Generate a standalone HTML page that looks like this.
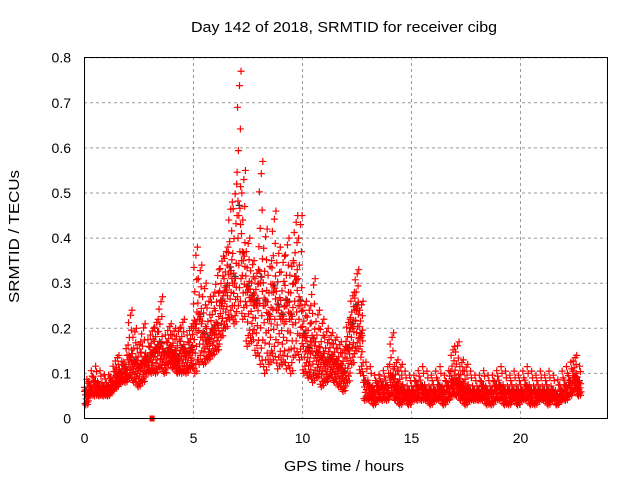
<!DOCTYPE html>
<html><head><meta charset="utf-8"><style>
body{margin:0;background:#fff}
svg text{font-family:"Liberation Sans",sans-serif;font-size:14px;fill:#000}
</style></head><body>
<svg id="chart" width="640" height="480" xmlns="http://www.w3.org/2000/svg">
<text x="191" y="32" textLength="306" lengthAdjust="spacingAndGlyphs" style="font-size:15px">Day 142 of 2018, SRMTID for receiver cibg</text>
<g id="grid"></g><g id="ticks"></g><g id="marks"></g>
<rect x="84.5" y="57.5" width="523" height="361" fill="none" stroke="#000" stroke-width="1"/>
<text x="284" y="471" textLength="120" lengthAdjust="spacingAndGlyphs" style="font-size:15px">GPS time / hours</text>
<text transform="translate(19,303) rotate(-90)" textLength="133" lengthAdjust="spacingAndGlyphs" style="font-size:15px">SRMTID / TECUs</text>
</svg>
<script>
const xTicks=[0,5,10,15,20];
const yTicks=[0,0.1,0.2,0.3,0.4,0.5,0.6,0.7,0.8];
const yLabels=["0","0.1","0.2","0.3","0.4","0.5","0.6","0.7","0.8"];
const tStep=0.2;
const hiVals=[.09,.11,.12,.11,.10,.10,.12,.14,.13,.16,.24,.20,.17,.21,.18,.20,.22,.27,.19,.21,.20,.20,.22,.19,.21,.38,.34,.30,.27,.28,.33,.36,.38,.48,.52,.77,.55,.40,.35,.33,.57,.42,.35,.46,.38,.36,.40,.35,.45,.45,.26,.25,.31,.24,.22,.20,.19,.18,.17,.16,.22,.28,.33,.26,.13,.12,.10,.10,.11,.12,.19,.13,.12,.11,.10,.10,.11,.12,.11,.10,.11,.12,.10,.11,.16,.17,.13,.12,.11,.10,.10,.11,.10,.10,.11,.12,.11,.10,.11,.10,.11,.12,.11,.10,.11,.10,.11,.10,.09,.11,.12,.13,.14,.12];
const midVals=[.06,.07,.08,.07,.07,.07,.08,.09,.10,.11,.13,.12,.11,.12,.13,.14,.15,.16,.14,.15,.14,.13,.15,.14,.15,.20,.22,.18,.17,.19,.20,.25,.28,.32,.30,.45,.35,.28,.26,.25,.30,.25,.22,.28,.24,.22,.25,.22,.30,.25,.18,.15,.17,.14,.13,.12,.13,.12,.11,.10,.15,.20,.24,.18,.08,.07,.06,.07,.07,.07,.09,.07,.06,.06,.06,.06,.07,.07,.06,.06,.06,.07,.06,.07,.08,.08,.07,.06,.06,.06,.06,.07,.06,.06,.07,.07,.06,.06,.06,.06,.06,.07,.06,.06,.06,.06,.06,.06,.05,.06,.07,.08,.09,.08];
const loVals=[.03,.05,.05,.05,.05,.05,.06,.07,.08,.08,.09,.08,.07,.08,.10,.10,.10,.11,.10,.12,.11,.10,.10,.10,.11,.10,.12,.12,.13,.14,.15,.18,.20,.22,.21,.25,.22,.16,.17,.14,.12,.10,.12,.13,.11,.12,.11,.10,.14,.13,.10,.09,.08,.09,.07,.08,.09,.08,.07,.06,.08,.12,.15,.10,.04,.04,.03,.04,.04,.04,.05,.04,.03,.04,.03,.04,.04,.04,.04,.03,.04,.04,.03,.04,.05,.05,.04,.03,.04,.04,.04,.04,.03,.03,.04,.04,.03,.03,.04,.03,.04,.04,.03,.03,.04,.04,.03,.04,.03,.04,.04,.05,.06,.05];
const zeroPoint=[3.1,0];
const X0=84.5,PX=21.8,Y0=418.5,PY=451;
const xs=v=>X0+v*PX, ys=v=>Y0-v*PY;
const NS="http://www.w3.org/2000/svg";
function mk(tag,attrs,parent){const e=document.createElementNS(NS,tag);for(const k in attrs)e.setAttribute(k,attrs[k]);document.getElementById(parent).appendChild(e);return e;}
xTicks.forEach(v=>{
  if(v>0){const g=mk('line',{x1:xs(v),x2:xs(v),y1:57,y2:418,stroke:'#999','stroke-dasharray':'3,3'},'grid');
  
  }
  const t=mk('text',{x:xs(v),y:443,'text-anchor':'middle'},'ticks');t.textContent=v;
  
  
});
yTicks.forEach((v,i)=>{
  if(v>0){const g=mk('line',{x1:84,x2:608,y1:ys(v),y2:ys(v),stroke:'#999','stroke-dasharray':'3,3'},'grid');
  
  }
  const t=mk('text',{x:71,y:ys(v)+5,'text-anchor':'end'},'ticks');t.textContent=yLabels[i];
  
  
});
function plus(t,v,col){
  const x=xs(t),y=ys(v);
  const p=mk('path',{d:`M${x-3.5},${y}h7M${x},${y-3.5}v7`,stroke:col,'stroke-width':1.2,fill:'none'},'marks');
  
  
}
midVals.forEach((v,i)=>plus(i*tStep+0.1,v*1.05,'#333'));
const fracs=[0,0.05,0.1,0.2,0.3,0.45,0.6,0.75,0.9,1];
const offs=[0.06,0.15,0.02,0.11,0.18,0.08,0.13,0.04,0.16,0];
hiVals.forEach((v,i)=>{
  const t=i*tStep,m=midVals[i],l=loVals[i];
  fracs.forEach((f,k)=>plus(t+offs[k],l+(m-l)*f,'#f00'));
  fracs.forEach((f,k)=>{ if(k%2===0||v-m>0.05) plus(t+offs[(k+5)%10],m+(v-m)*f,'#f00'); });
});
const r=mk('rect',{x:xs(zeroPoint[0])-2.5,y:ys(zeroPoint[1])-3,width:5,height:6,fill:'#f00'},'marks');


</script>
</body></html>
